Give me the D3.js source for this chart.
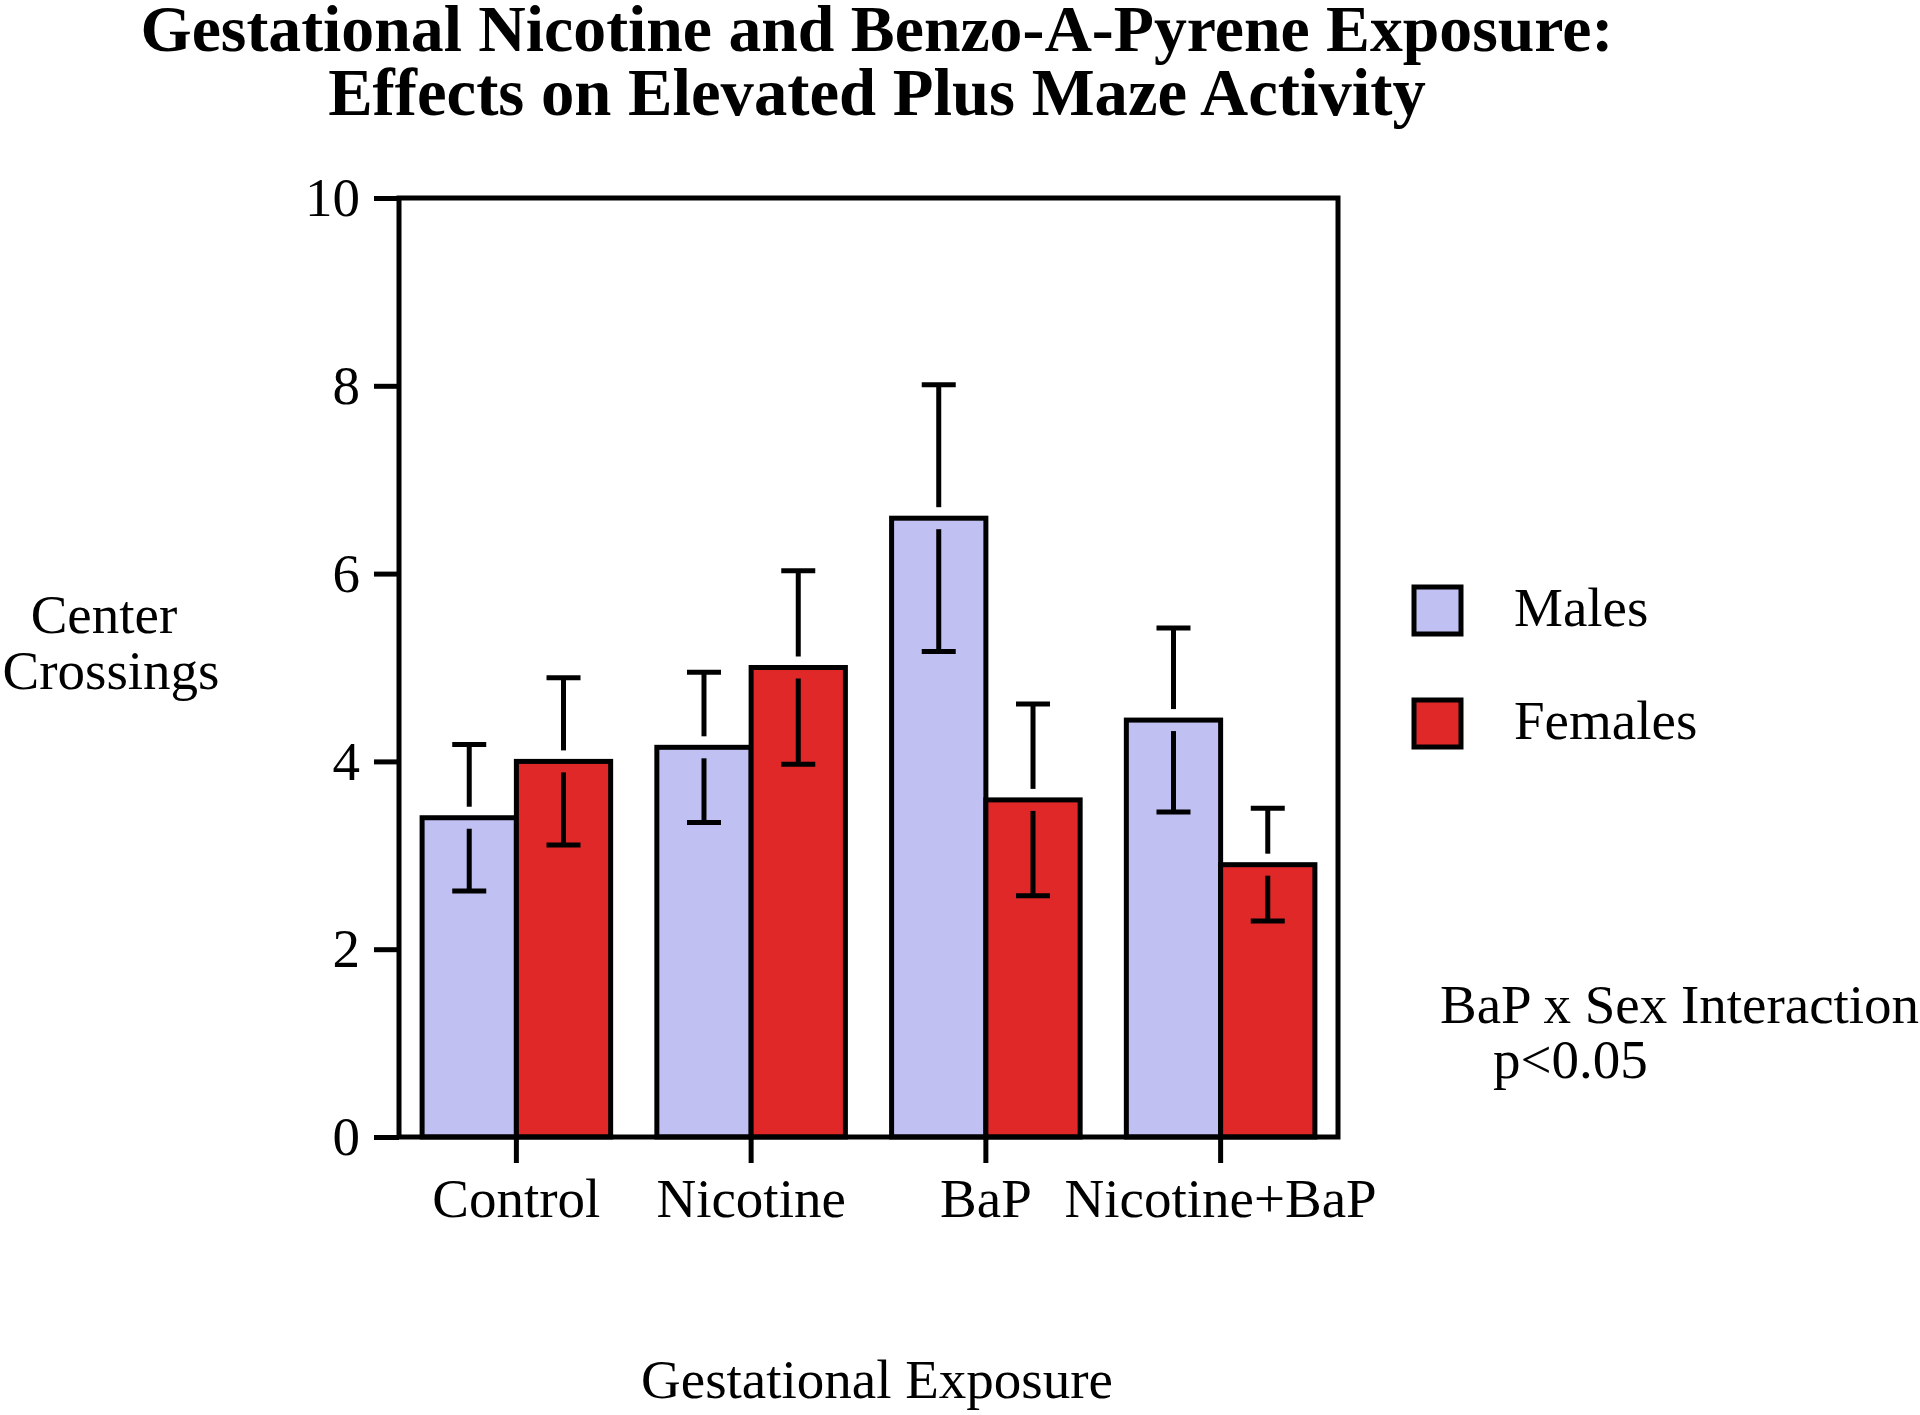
<!DOCTYPE html>
<html>
<head>
<meta charset="utf-8">
<script src="https://cdn.jsdelivr.net/npm/d3@7/dist/d3.min.js"></script>
<style>
  html, body { margin: 0; padding: 0; background: #fff; }
  svg text { font-family: "Liberation Serif", "Times New Roman", serif; fill: #000; }
</style>
</head>
<body>
<svg id="chart" width="1920" height="1415"></svg>
<script>
// ---- data ----
const categories = ["Control", "Nicotine", "BaP", "Nicotine+BaP"];
const seriesNames = ["Males", "Females"];
const maleMeans = [3.40, 4.15, 6.59, 4.44];
const maleSEM = [0.78, 0.80, 1.42, 0.98];
const femaleMeans = [4.00, 5.00, 3.59, 2.90];
const femaleSEM = [0.89, 1.03, 1.02, 0.60];
const yTicks = [0, 2, 4, 6, 8, 10];
const titleLines = ["Gestational Nicotine and Benzo-A-Pyrene Exposure:", "Effects on Elevated Plus Maze Activity"];
const yTitleLines = ["Center", "Crossings"];
const xTitle = "Gestational Exposure";
const noteLines = ["BaP x Sex Interaction", "p<0.05"];

// ---- layout ----
const colors = { Males: "#C0C0F2", Females: "#E02828" };
const svg = d3.select("#chart");
const L = 399, R = 1338, T = 198, B = 1137;
const FS = 55;
const SW = 5;

const x0 = d3.scaleBand().domain(categories).range([L, R]).paddingInner(0).paddingOuter(0);
const x1 = d3.scaleBand().domain(seriesNames).range([0, x0.bandwidth()]).paddingInner(0).paddingOuter(0.245);
const y = d3.scaleLinear().domain([0, 10]).range([B, T]);

const rows = [];
categories.forEach((c, i) => {
  rows.push({ cat: c, s: "Males", v: maleMeans[i], e: maleSEM[i] });
  rows.push({ cat: c, s: "Females", v: femaleMeans[i], e: femaleSEM[i] });
});

// bars
svg.append("g").selectAll("rect").data(rows).join("rect")
  .attr("x", d => x0(d.cat) + x1(d.s))
  .attr("y", d => y(d.v))
  .attr("width", x1.bandwidth())
  .attr("height", d => y(0) - y(d.v))
  .attr("fill", d => colors[d.s])
  .attr("stroke", "#000")
  .attr("stroke-width", SW);

// error bars (with a small gap around bar top)
const gap = 11, capW = 34;
const eg = svg.append("g").attr("stroke", "#000").attr("stroke-width", SW);
rows.forEach(d => {
  const cx = x0(d.cat) + x1(d.s) + x1.bandwidth() / 2;
  const yt = y(d.v + d.e), yb = y(d.v - d.e), ym = y(d.v);
  eg.append("line").attr("x1", cx).attr("x2", cx).attr("y1", yt).attr("y2", ym - gap);
  eg.append("line").attr("x1", cx).attr("x2", cx).attr("y1", ym + gap).attr("y2", yb);
  eg.append("line").attr("x1", cx - capW / 2).attr("x2", cx + capW / 2).attr("y1", yt).attr("y2", yt);
  eg.append("line").attr("x1", cx - capW / 2).attr("x2", cx + capW / 2).attr("y1", yb).attr("y2", yb);
});

// frame
svg.append("rect").attr("x", L).attr("y", T).attr("width", R - L).attr("height", B - T)
  .attr("fill", "none").attr("stroke", "#000").attr("stroke-width", SW);

// y axis
const yAxis = svg.append("g").attr("transform", `translate(${L},0)`)
  .call(d3.axisLeft(y).tickValues(yTicks).tickSize(25).tickPadding(14).tickSizeOuter(0).tickFormat(d3.format("d")));
yAxis.select(".domain").remove();
yAxis.selectAll(".tick line").attr("stroke", "#000").attr("stroke-width", SW);
yAxis.selectAll(".tick text").attr("font-size", FS).attr("font-family", "Liberation Serif, Times New Roman, serif");

// x axis
const xAxis = svg.append("g").attr("transform", `translate(0,${B})`)
  .call(d3.axisBottom(x0).tickSize(26).tickPadding(15).tickSizeOuter(0));
xAxis.select(".domain").remove();
xAxis.selectAll(".tick line").attr("stroke", "#000").attr("stroke-width", SW);
xAxis.selectAll(".tick text").attr("font-size", FS).attr("font-family", "Liberation Serif, Times New Roman, serif");

// title
function fitText(sel, target) {
  const w = sel.node().getComputedTextLength();
  const fs = parseFloat(sel.attr("font-size"));
  sel.attr("font-size", fs * target / w);
}
const t1 = svg.append("text").attr("x", 877).attr("y", 51).attr("text-anchor", "middle")
  .attr("font-weight", "bold").attr("font-size", 58).text(titleLines[0]);
fitText(t1, 1473);
const t2 = svg.append("text").attr("x", 877).attr("y", 115).attr("text-anchor", "middle")
  .attr("font-weight", "bold").attr("font-size", 58).text(titleLines[1]);
fitText(t2, 1098);

// y title
svg.append("text").attr("x", 104).attr("y", 633).attr("text-anchor", "middle").attr("font-size", FS).text(yTitleLines[0]);
svg.append("text").attr("x", 111).attr("y", 689).attr("text-anchor", "middle").attr("font-size", FS).text(yTitleLines[1]);

// x title
svg.append("text").attr("x", 877).attr("y", 1398).attr("text-anchor", "middle").attr("font-size", FS).text(xTitle);

// legend
const leg = svg.append("g");
seriesNames.forEach((s, i) => {
  const yy = 587 + i * 113;
  leg.append("rect").attr("x", 1414).attr("y", yy).attr("width", 47).attr("height", 47)
    .attr("fill", colors[s]).attr("stroke", "#000").attr("stroke-width", SW);
  leg.append("text").attr("x", 1514).attr("y", yy + 39).attr("font-size", FS).text(s);
});

// note
svg.append("text").attr("x", 1440).attr("y", 1023).attr("font-size", FS).text(noteLines[0]);
svg.append("text").attr("x", 1493).attr("y", 1078).attr("font-size", FS).text(noteLines[1]);
</script>
</body>
</html>
